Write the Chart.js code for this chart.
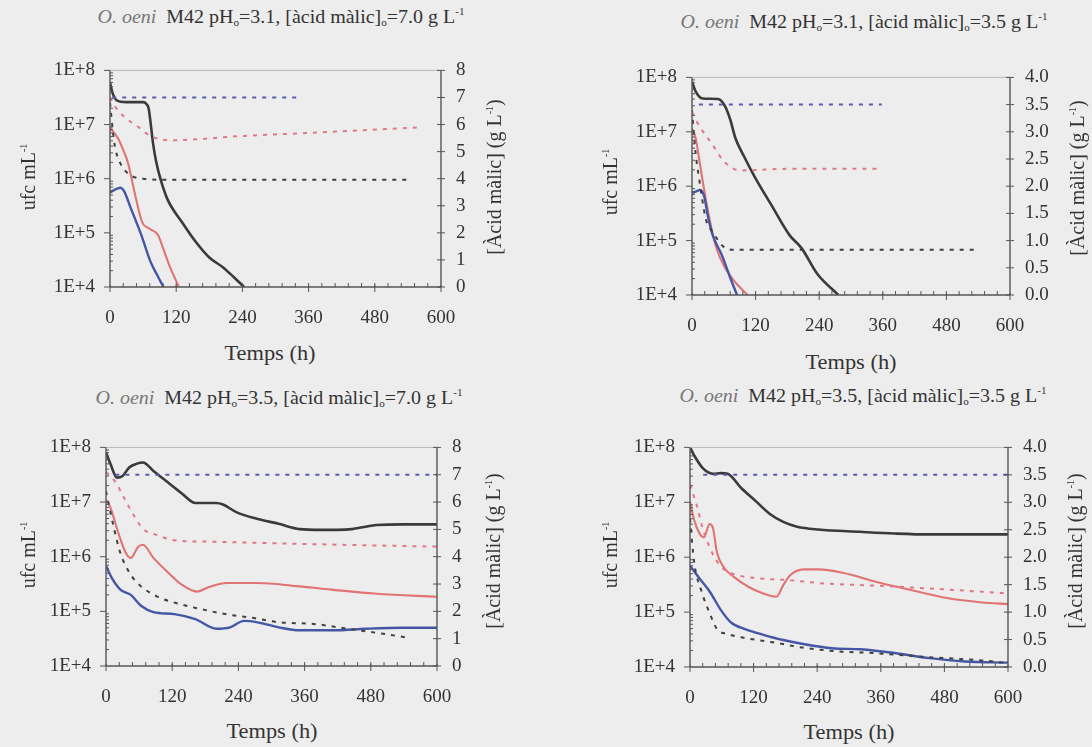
<!DOCTYPE html>
<html lang="ca">
<head>
<meta charset="UTF-8">
<title>O. oeni M42</title>
<script src="https://cdn.jsdelivr.net/npm/chart.js"></script>
<style>
  body { margin: 0; background: #ededed; }
  #page { position: relative; width: 1092px; height: 747px; background: #ededed; overflow: hidden;
          font-family: "Liberation Serif", "DejaVu Serif", serif; color: #333; }
  canvas { position: absolute; }
  .t { position: absolute; white-space: nowrap; transform: translate(-50%, -50%); }
  .title { font-size: 18px; transform: translate(-50%, -50%) scaleX(1.11); }
  .title i { color: #777; }
  .ax { font-size: 20px; }
  .hz { transform: translate(-50%, -50%) scaleX(1.12); }
  .rot { transform: translate(-50%, -50%) rotate(-90deg); }
  sup { font-size: 10px; vertical-align: 8px; }
  sub { font-size: 10px; vertical-align: -3px; }
</style>
</head>
<body>
<div id="page">
  <canvas id="c1"></canvas>
  <canvas id="c2"></canvas>
  <canvas id="c3"></canvas>
  <canvas id="c4"></canvas>

  <!-- titles -->
  <div class="t title" style="left:281px;top:17px"><i>O. oeni</i>&nbsp; M42 pH<sub>o</sub>=3.1, [àcid màlic]<sub>o</sub>=7.0 g L<sup>-1</sup></div>
  <div class="t title" style="left:864px;top:22px"><i>O. oeni</i>&nbsp; M42 pH<sub>o</sub>=3.1, [àcid màlic]<sub>o</sub>=3.5 g L<sup>-1</sup></div>
  <div class="t title" style="left:279px;top:398px"><i>O. oeni</i>&nbsp; M42 pH<sub>o</sub>=3.5, [àcid màlic]<sub>o</sub>=7.0 g L<sup>-1</sup></div>
  <div class="t title" style="left:863px;top:396px"><i>O. oeni</i>&nbsp; M42 pH<sub>o</sub>=3.5, [àcid màlic]<sub>o</sub>=3.5 g L<sup>-1</sup></div>

  <!-- axis titles -->
  <div class="t ax rot" style="left:28px;top:177px">ufc mL<sup>-1</sup></div>
  <div class="t ax rot" style="left:610px;top:182px">ufc mL<sup>-1</sup></div>
  <div class="t ax rot" style="left:28px;top:555px">ufc mL<sup>-1</sup></div>
  <div class="t ax rot" style="left:610px;top:555px">ufc mL<sup>-1</sup></div>

  <div class="t ax rot" style="left:494px;top:177px">[Àcid màlic] (g L<sup>-1</sup>)</div>
  <div class="t ax rot" style="left:1077px;top:178px">[Àcid màlic] (g L<sup>-1</sup>)</div>
  <div class="t ax rot" style="left:493px;top:551px">[Àcid màlic] (g L<sup>-1</sup>)</div>
  <div class="t ax rot" style="left:1075px;top:551px">[Àcid màlic] (g L<sup>-1</sup>)</div>

  <div class="t ax hz" style="left:270px;top:353px">Temps (h)</div>
  <div class="t ax hz" style="left:851px;top:362px">Temps (h)</div>
  <div class="t ax hz" style="left:272px;top:731px">Temps (h)</div>
  <div class="t ax hz" style="left:849px;top:732px">Temps (h)</div>
</div>

<script>
// axis ticks
const xTickValues = [0, 120, 240, 360, 480, 600];
const yTickValues = [1e4, 1e5, 1e6, 1e7, 1e8];
const yTickLabels = ['1E+4', '1E+5', '1E+6', '1E+7', '1E+8'];

// panel 1: pH 3.1, malic 7.0
const p1BlackT = [0, 4, 12, 30, 60, 66, 70, 74, 78, 84, 92, 104, 130, 155, 180, 205, 225, 243];
const p1BlackV = [6e7, 4e7, 2.8e7, 2.6e7, 2.6e7, 2.4e7, 2e7, 1e7, 4.5e6, 2e6, 9.5e5, 4.2e5, 1.6e5, 6.9e4, 3.5e4, 2.3e4, 1.5e4, 1e4];
const p1RedT = [0, 5, 14, 25, 33, 46, 58, 71, 87, 96, 109, 125];
const p1RedV = [9e6, 7.6e6, 5.7e6, 3.2e6, 1.9e6, 4.8e5, 1.6e5, 1.2e5, 9.1e4, 5.3e4, 2.3e4, 1e4];
const p1BlueT = [0, 9, 19, 25, 38, 57, 73, 85, 97];
const p1BlueV = [5.5e5, 6.3e5, 6.8e5, 6e5, 2.8e5, 9e4, 3e4, 1.7e4, 1e4];
const p1MalBlueT = [4, 345];
const p1MalBlueV = [7.0, 7.0];
const p1MalRedT = [0, 8, 25, 52, 71, 90, 110, 243, 370, 565];
const p1MalRedV = [7.0, 6.7, 6.3, 5.9, 5.6, 5.46, 5.42, 5.58, 5.7, 5.9];
const p1MalBlackT = [0, 8, 19, 32, 41, 60, 100, 543];
const p1MalBlackV = [6.8, 5.3, 4.56, 4.2, 4.08, 4.0, 3.96, 3.96];

// panel 2: pH 3.1, malic 3.5
const p2BlackT = [0, 7, 20, 49, 62, 72, 82, 99, 118, 151, 184, 207, 237, 276];
const p2BlackV = [8.3e7, 5.5e7, 4.1e7, 4e7, 3e7, 1.7e7, 7.6e6, 3.4e6, 1.5e6, 4.3e5, 1.26e5, 7.2e4, 2.4e4, 1e4];
const p2RedT = [0, 7, 13, 23, 33, 46, 62, 82, 105];
const p2RedV = [1.15e7, 7.6e6, 3.4e6, 8.5e5, 2.5e5, 7.3e4, 3.2e4, 1.7e4, 1e4];
const p2BlueT = [0, 8, 15, 23, 30, 39, 56, 72, 85];
const p2BlueV = [7.4e5, 8e5, 8.5e5, 6.5e5, 2.8e5, 1.26e5, 5.5e4, 2.1e4, 1e4];
const p2MalBlueT = [13, 358];
const p2MalBlueV = [3.5, 3.5];
const p2MalRedT = [0, 13, 39, 59, 79, 92, 184, 355];
const p2MalRedV = [3.36, 3.12, 2.76, 2.47, 2.32, 2.29, 2.32, 2.32];
const p2MalBlackT = [0, 7, 13, 26, 39, 59, 79, 535];
const p2MalBlackV = [3.4, 2.59, 2.17, 1.4, 1.16, 0.89, 0.83, 0.83];

// panel 3: pH 3.5, malic 7.0
const p3BlackT = [0, 8, 20, 30, 42, 55, 67, 86, 112, 137, 162, 200, 212, 238, 275, 313, 351, 389, 420, 446, 468, 490, 540, 600];
const p3BlackV = [8e7, 5e7, 2.8e7, 3e7, 4.3e7, 5e7, 5.3e7, 3.7e7, 2.3e7, 1.45e7, 9.6e6, 9.6e6, 9e6, 6.4e6, 4.9e6, 4e6, 3.2e6, 3.1e6, 3.1e6, 3.2e6, 3.5e6, 3.8e6, 3.9e6, 3.9e6];
const p3RedT = [0, 8, 23, 36, 45, 58, 67, 86, 112, 137, 165, 187, 219, 275, 345, 408, 490, 600];
const p3RedV = [1.1e7, 7.9e6, 2.6e6, 1.17e6, 9.5e5, 1.5e6, 1.65e6, 9.5e5, 5.2e5, 3.1e5, 2.3e5, 2.8e5, 3.3e5, 3.3e5, 2.9e5, 2.5e5, 2.1e5, 1.85e5];
const p3BlueT = [0, 11, 26, 45, 64, 86, 124, 162, 200, 225, 250, 275, 313, 351, 414, 471, 537, 600];
const p3BlueV = [6.8e5, 4e5, 2.5e5, 2e5, 1.25e5, 9.7e4, 8.9e4, 7.2e4, 4.8e4, 5.1e4, 6.7e4, 6.3e4, 5.1e4, 4.5e4, 4.5e4, 4.8e4, 5e4, 5e4];
const p3MalBlueT = [17, 600];
const p3MalBlueV = [7.0, 7.0];
const p3MalRedT = [0, 17, 30, 49, 67, 93, 124, 187, 313, 439, 600];
const p3MalRedV = [7.1, 6.74, 6.26, 5.56, 5.02, 4.79, 4.6, 4.55, 4.49, 4.43, 4.37];
const p3MalBlackT = [0, 14, 26, 42, 61, 93, 137, 175, 219, 263, 313, 376, 439, 502, 546];
const p3MalBlackV = [6.4, 5.08, 4.14, 3.43, 2.96, 2.54, 2.25, 2.07, 1.89, 1.77, 1.6, 1.54, 1.36, 1.18, 1.04];

// panel 4: pH 3.5, malic 3.5
const p4BlackT = [0, 8, 25, 45, 58, 71, 97, 124, 150, 176, 202, 242, 321, 386, 452, 600];
const p4BlackV = [1e8, 7.1e7, 4.1e7, 3.3e7, 3.4e7, 3.3e7, 1.8e7, 1.05e7, 6.2e6, 4.4e6, 3.6e6, 3.2e6, 2.9e6, 2.7e6, 2.6e6, 2.6e6];
const p4RedT = [0, 8, 18, 26, 37, 43, 51, 64, 84, 110, 137, 163, 176, 189, 216, 242, 288, 354, 419, 485, 551, 600];
const p4RedV = [1.02e7, 4.7e6, 2.7e6, 2.3e6, 4e6, 3.5e6, 1.2e6, 6.5e5, 4.3e5, 2.9e5, 2.2e5, 1.9e5, 3.1e5, 4.7e5, 6e5, 6e5, 5.2e5, 3.5e5, 2.5e5, 1.8e5, 1.5e5, 1.4e5];
const p4BlueT = [0, 18, 38, 58, 78, 104, 137, 176, 216, 268, 321, 386, 452, 518, 600];
const p4BlueV = [7e5, 4.1e5, 2.3e5, 1.1e5, 6.4e4, 4.9e4, 3.9e4, 3.1e4, 2.6e4, 2.2e4, 2.1e4, 1.8e4, 1.45e4, 1.26e4, 1.2e4];
const p4MalBlueT = [25, 600];
const p4MalBlueV = [3.5, 3.5];
const p4MalRedT = [0, 12, 25, 45, 64, 91, 124, 189, 255, 354, 452, 600];
const p4MalRedV = [3.32, 2.97, 2.49, 2.02, 1.78, 1.67, 1.62, 1.58, 1.52, 1.48, 1.43, 1.34];
const p4MalBlackT = [0, 8, 22, 38, 51, 71, 97, 156, 222, 288, 354, 419, 485, 551, 600];
const p4MalBlackV = [2.7, 1.9, 1.37, 0.96, 0.69, 0.6, 0.54, 0.45, 0.34, 0.28, 0.25, 0.2, 0.16, 0.12, 0.07];

const FONT = { family: "'Liberation Serif', serif", size: 19 };
const PAD_SIDE = 80, PAD_TOP = 20, PAD_BOTTOM = 50;

function pts(t, v) {
    return t.map((x, i) => ({ x: x, y: v[i] }));
}

function solid(t, v, color, width) {
    return { data: pts(t, v), borderColor: color, borderWidth: width, pointRadius: 0,
             cubicInterpolationMode: 'monotone', yAxisID: 'y', fill: false };
}

function dashed(t, v, color) {
    return { data: pts(t, v), borderColor: color, borderWidth: 2, borderDash: [4, 6], pointRadius: 0,
             cubicInterpolationMode: 'monotone', yAxisID: 'y2', fill: false };
}

// axis lines and the small tick marks
const framePlugin = {
    id: 'frame',
    afterDraw(chart) {
        const { ctx, chartArea: a, scales } = chart;
        const ln = (x1, y1, x2, y2) => { ctx.beginPath(); ctx.moveTo(x1, y1); ctx.lineTo(x2, y2); ctx.stroke(); };
        ctx.save();
        ctx.strokeStyle = '#b8b8b8';
        ctx.lineWidth = 1;
        ln(a.left, a.top, a.right, a.top);
        ctx.strokeStyle = '#555';
        ctx.lineWidth = 1.4;
        ln(a.left, a.top, a.left, a.bottom);
        ln(a.left, a.bottom, a.right, a.bottom);
        ln(a.right, a.top, a.right, a.bottom);
        ctx.lineWidth = 1;
        yTickValues.forEach(v => {
            const py = scales.y.getPixelForValue(v);
            ln(a.left - 6, py, a.left, py);
        });
        for (let d = 1e4; d < 1e8; d *= 10) {
            for (let k = 2; k < 10; k++) {
                const py = scales.y.getPixelForValue(d * k);
                ln(a.left, py, a.left + 3, py);
            }
        }
        scales.y2.ticks.forEach(t => {
            const py = scales.y2.getPixelForValue(t.value);
            ln(a.right - 4, py, a.right + 4, py);
        });
        xTickValues.forEach(v => {
            const px = scales.x.getPixelForValue(v);
            ln(px, a.bottom - 2, px, a.bottom + 5);
        });
        for (let v = 24; v < 600; v += 24) {
            const px = scales.x.getPixelForValue(v);
            ln(px, a.bottom - 4, px, a.bottom);
        }
        ctx.restore();
    }
};

function makePanel(id, box, rightMax, rightStep, datasets) {
    const cv = document.getElementById(id);
    const w = box.R - box.L + 2 * PAD_SIDE;
    const h = box.B - box.T + PAD_TOP + PAD_BOTTOM;
    cv.width = w; cv.height = h;
    cv.style.left = (box.L - PAD_SIDE) + 'px';
    cv.style.top = (box.T - PAD_TOP) + 'px';
    cv.style.width = w + 'px'; cv.style.height = h + 'px';
    const dec = rightStep < 1 ? 1 : 0;
    return new Chart(cv.getContext('2d'), {
        type: 'line',
        data: { datasets: datasets },
        plugins: [framePlugin],
        options: {
            responsive: false,
            animation: false,
            layout: { padding: { top: PAD_TOP, left: 0, right: 0, bottom: 0 } },
            plugins: { legend: { display: false }, tooltip: { enabled: false } },
            scales: {
                x: {
                    type: 'linear', position: 'bottom', min: 0, max: 600,
                    afterBuildTicks: s => { s.ticks = xTickValues.map(v => ({ value: v })); },
                    afterFit: s => { s.height = PAD_BOTTOM; },
                    grid: { display: false, drawTicks: false }, border: { display: false },
                    ticks: { color: '#333', font: FONT, padding: 20, maxRotation: 0, autoSkip: false }
                },
                y: {
                    type: 'logarithmic', position: 'left', min: 1e4, max: 1e8,
                    afterBuildTicks: s => { s.ticks = yTickValues.map(v => ({ value: v })); },
                    afterFit: s => { s.width = PAD_SIDE; },
                    grid: { display: false, drawTicks: false }, border: { display: false },
                    ticks: { color: '#333', font: FONT, padding: 15, autoSkip: false,
                             callback: (v) => yTickLabels[yTickValues.indexOf(v)] }
                },
                y2: {
                    type: 'linear', position: 'right', min: 0, max: rightMax,
                    afterFit: s => { s.width = PAD_SIDE; },
                    grid: { display: false, drawTicks: false }, border: { display: false },
                    ticks: { color: '#333', font: FONT, padding: 15, stepSize: rightStep,
                             callback: v => Number(v).toFixed(dec) }
                }
            }
        }
    });
}

const BLACK = '#3a3a3a', RED = '#e07474', BLUE = '#4656a6';
const DBLUE = '#5a5aae', DRED = '#e07888', DBLACK = '#404040';

function sixLines(mb, mr, mk, b, r, k) {
    return [
        dashed(mb[0], mb[1], DBLUE),
        dashed(mr[0], mr[1], DRED),
        dashed(mk[0], mk[1], DBLACK),
        solid(b[0], b[1], BLUE, 2.4),
        solid(r[0], r[1], RED, 2.1),
        solid(k[0], k[1], BLACK, 2.6)
    ];
}

makePanel('c1', { L: 110, R: 441, T: 64, B: 287 }, 8, 1, sixLines(
    [p1MalBlueT, p1MalBlueV], [p1MalRedT, p1MalRedV], [p1MalBlackT, p1MalBlackV],
    [p1BlueT, p1BlueV], [p1RedT, p1RedV], [p1BlackT, p1BlackV]));
makePanel('c2', { L: 692, R: 1010, T: 71, B: 295 }, 4, 0.5, sixLines(
    [p2MalBlueT, p2MalBlueV], [p2MalRedT, p2MalRedV], [p2MalBlackT, p2MalBlackV],
    [p2BlueT, p2BlueV], [p2RedT, p2RedV], [p2BlackT, p2BlackV]));
makePanel('c3', { L: 106, R: 437, T: 441, B: 666 }, 8, 1, sixLines(
    [p3MalBlueT, p3MalBlueV], [p3MalRedT, p3MalRedV], [p3MalBlackT, p3MalBlackV],
    [p3BlueT, p3BlueV], [p3RedT, p3RedV], [p3BlackT, p3BlackV]));
makePanel('c4', { L: 690, R: 1008, T: 441, B: 667 }, 4, 0.5, sixLines(
    [p4MalBlueT, p4MalBlueV], [p4MalRedT, p4MalRedV], [p4MalBlackT, p4MalBlackV],
    [p4BlueT, p4BlueV], [p4RedT, p4RedV], [p4BlackT, p4BlackV]));
</script>
</body>
</html>
